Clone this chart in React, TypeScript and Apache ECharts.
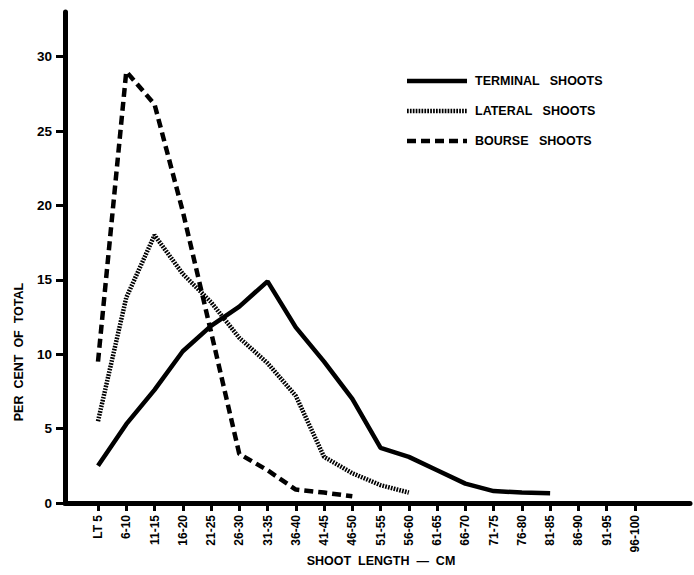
import React, { useEffect, useRef } from "react";
import * as echarts from "echarts";

const categories = [
  "LT 5", "6-10", "11-15", "16-20", "21-25", "26-30", "31-35", "36-40", "41-45", "46-50",
  "51-55", "56-60", "61-65", "66-70", "71-75", "76-80", "81-85", "86-90", "91-95", "96-100",
];
const terminalShoots = [2.5, 5.3, 7.6, 10.2, 11.9, 13.2, 14.9, 11.8, 9.5, 7.0, 3.7, 3.1, 2.2, 1.3, 0.8, 0.7, 0.65];
const lateralShoots = [5.5, 13.8, 18.0, 15.4, 13.5, 11.1, 9.4, 7.2, 3.1, 2.0, 1.2, 0.7];
const bourseShoots = [9.5, 29.0, 26.8, 19.6, 11.5, 3.3, 2.2, 0.9, 0.7, 0.45];
const yTicks = [0, 5, 10, 15, 20, 25, 30];
const seriesNames = ["TERMINAL   SHOOTS", "LATERAL   SHOOTS", "BOURSE   SHOOTS"];

const FONT = "Liberation Sans";
const DASHES: (number[] | null)[] = [null, [1.7, 1.2], [9, 5]];

function toPairs(values: number[]) {
  return values.map((v, i) => [i, v]);
}

export default function App() {
  const ref = useRef<HTMLDivElement>(null);
  useEffect(() => {
    if (!ref.current) return;
    const chart = echarts.init(ref.current, null, { renderer: "svg" });
    const idx = categories.map((_, i) => i);
    const legendItems: any[] = [];
    seriesNames.forEach((name, i) => {
      const y = 81 + i * 30;
      legendItems.push({
        type: "line",
        shape: { x1: 407, y1: y, x2: 467, y2: y },
        style: { stroke: "#000", lineWidth: 4.5, lineDash: DASHES[i] ?? undefined },
      });
      legendItems.push({
        type: "text",
        x: 475,
        y: y,
        style: {
          text: name,
          fontFamily: FONT,
          fontWeight: "bold",
          fontSize: 12.5,
          fill: "#000",
          textAlign: "left",
          textVerticalAlign: "middle",
        },
      });
    });
    const lineData = [terminalShoots, lateralShoots, bourseShoots];
    chart.setOption({
      animation: false,
      backgroundColor: "#ffffff",
      grid: { left: 65, right: 4, top: 12, bottom: 72, containLabel: false },
      xAxis: {
        type: "value",
        min: -1.168,
        max: 20.95,
        splitLine: { show: false },
        axisLine: { show: true, onZero: false, lineStyle: { color: "#000", width: 5 } },
        axisTick: {
          show: true,
          customValues: idx,
          length: 8,
          lineStyle: { color: "#000", width: 3 },
        },
        axisLabel: {
          customValues: idx,
          rotate: 90,
          margin: 12,
          formatter: (v: number) => categories[Math.round(v)] ?? "",
          fontFamily: FONT,
          fontWeight: "bold",
          fontSize: 12,
          color: "#000",
        },
      },
      yAxis: {
        type: "value",
        min: 0,
        max: 33,
        splitLine: { show: false },
        axisLine: { show: true, onZero: false, lineStyle: { color: "#000", width: 5 } },
        axisTick: {
          show: true,
          customValues: yTicks,
          length: 9,
          lineStyle: { color: "#000", width: 3 },
        },
        axisLabel: {
          customValues: yTicks,
          margin: 13,
          fontFamily: FONT,
          fontWeight: "bold",
          fontSize: 13.5,
          color: "#000",
        },
      },
      graphic: [
        {
          type: "text",
          x: 19,
          y: 352,
          rotation: Math.PI / 2,
          style: {
            text: "PER  CENT  OF  TOTAL",
            fontFamily: FONT,
            fontWeight: "bold",
            fontSize: 12.5,
            fill: "#000",
            textAlign: "center",
            textVerticalAlign: "middle",
          },
        },
        {
          type: "text",
          x: 381,
          y: 561,
          style: {
            text: "SHOOT  LENGTH  —  CM",
            fontFamily: FONT,
            fontWeight: "bold",
            fontSize: 12.5,
            fill: "#000",
            textAlign: "center",
            textVerticalAlign: "middle",
          },
        },
        ...legendItems,
      ],
      series: seriesNames.map((name, i) => ({
        name,
        type: "line",
        data: toPairs(lineData[i]),
        symbol: "none",
        lineStyle: { color: "#000", width: 4.5, type: DASHES[i] ?? "solid" },
        itemStyle: { color: "#000" },
      })),
    });
    return () => chart.dispose();
  }, []);
  return <div ref={ref} style={{ width: 694, height: 575, position: "absolute", left: 0, top: 0 }} />;
}
